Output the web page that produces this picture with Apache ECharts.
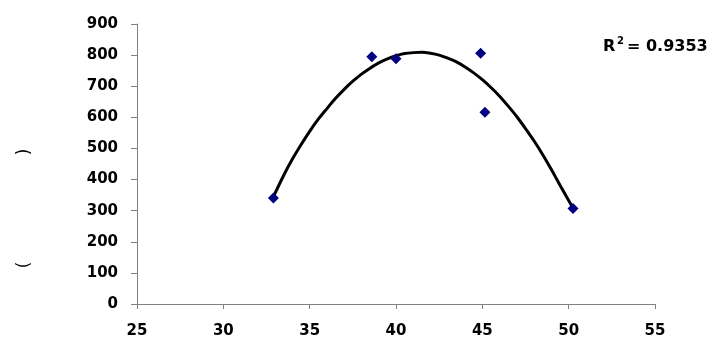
<!DOCTYPE html>
<html>
<head>
<meta charset="utf-8">
<script src="https://cdn.jsdelivr.net/npm/echarts@6/dist/echarts.min.js"></script>
<style>
html, body { margin: 0; padding: 0; background: #fff; }
#chart { width: 711px; height: 339px; }
</style>
</head>
<body>
<div id="chart"></div>
<script>
// measured points
var xVals = [32.9, 38.6, 40.0, 44.9, 45.15, 50.25]
var yVals = [341, 795, 788, 806, 616, 307]

// trend curve
var trendX = [32.9, 33.5, 34, 34.5, 35, 35.5, 36, 36.5, 37, 37.5, 38, 38.5, 39, 39.5, 40, 40.5, 41, 41.5,
    42, 42.5, 43, 43.5, 44, 44.5, 45, 45.5, 46, 46.5, 47, 47.5, 48, 48.5, 49, 49.5, 50.2]
var trendY = [345, 414, 466, 512, 555, 594, 628, 661, 690, 716, 739, 758, 775, 788, 798, 805, 808, 809,
    806, 800, 790, 778, 762, 743, 721, 696, 668, 636, 602, 564, 524, 480, 432, 382, 313]

var r2Text = '0.9353'

var fontColor = '#000'
var axisColor = '#808080'
var fontFam = 'DejaVu Sans'

var points = xVals.map(function(x, i) { return [x, yVals[i]] })
var trend = trendX.map(function(x, i) { return [x, trendY[i]] })

var boldText = function(txt, x, y, size) {
    return {
        type: 'text',
        x: x,
        y: y,
        style: {
            text: txt,
            fontFamily: fontFam,
            fontWeight: 'bold',
            fontSize: size,
            fill: fontColor,
            align: 'left',
            verticalAlign: 'middle'
        }
    }
}

var parenText = function(txt, y) {
    return {
        type: 'text',
        x: 25,
        y: y,
        rotation: Math.PI / 2,
        style: {
            text: txt,
            fontFamily: fontFam,
            fontSize: 17,
            fill: fontColor,
            align: 'center',
            verticalAlign: 'middle'
        }
    }
}

var option = {
    animation: false,
    backgroundColor: '#fff',
    grid: {
        left: 137,
        right: 56,
        top: 24,
        bottom: 34
    },
    xAxis: {
        type: 'value',
        min: 25,
        max: 55,
        interval: 5,
        splitLine: { show: false },
        axisLine: { lineStyle: { color: axisColor, width: 1 } },
        axisTick: { show: true, length: 5, lineStyle: { color: axisColor } },
        axisLabel: {
            color: fontColor,
            fontFamily: fontFam,
            fontWeight: 'bold',
            fontSize: 15,
            margin: 20
        }
    },
    yAxis: {
        type: 'value',
        min: 0,
        max: 900,
        interval: 100,
        splitLine: { show: false },
        axisLine: { show: true, lineStyle: { color: axisColor, width: 1 } },
        axisTick: { show: true, length: 6, lineStyle: { color: axisColor } },
        axisLabel: {
            color: fontColor,
            fontFamily: fontFam,
            fontWeight: 'bold',
            fontSize: 15,
            margin: 19
        }
    },
    series: [
        {
            type: 'line',
            data: trend,
            smooth: 0.3,
            showSymbol: false,
            lineStyle: { color: '#000', width: 3 },
            z: 2
        },
        {
            type: 'scatter',
            data: points,
            symbol: 'diamond',
            symbolSize: 11,
            itemStyle: { color: '#000080', opacity: 1 },
            z: 3
        }
    ],
    graphic: [
        boldText('R', 603, 47, 16),
        boldText('2', 617, 41, 10),
        boldText('= ' + r2Text, 627, 47, 16),
        parenText(')', 152),
        parenText('(', 265)
    ]
}

var myChart = echarts.init(document.getElementById('chart'))
myChart.setOption(option)
</script>
</body>
</html>
